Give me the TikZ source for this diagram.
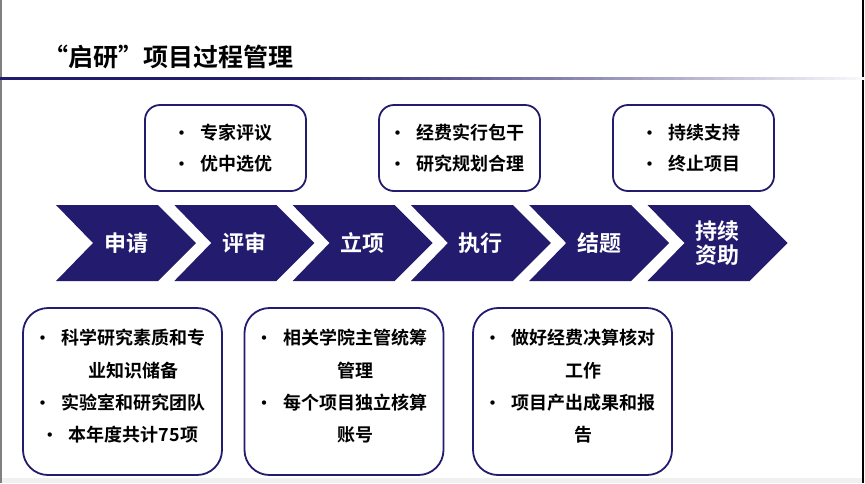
\documentclass[tikz,border=0pt]{standalone}
\usepackage{fontspec}
\setmainfont{Noto Sans CJK SC}[BoldFont=* Bold]
\definecolor{deepblue}{RGB}{35,28,110}
% bullet and indent for wrapped lines
\newcommand{\itm}{\makebox[6pt]{\fontsize{17}{17}\selectfont •}\hspace{16pt}}
\newcommand{\cnt}{\hspace{22pt}}

\begin{document}
\begin{tikzpicture}[
x=1pt,
y=-1pt,
chev/.style={
  fill=deepblue,
  draw=none
  },
lbl/.style={
  text=white,
  font=\fontsize{22}{24}\selectfont\bfseries,
  align=center,
  inner sep=0pt
  },
topbox/.style={
  draw=deepblue,
  line width=1.8pt,
  rounded corners=15pt,
  minimum width=161pt,
  minimum height=86pt,
  align=center,
  inner sep=0pt,
  font=\fontsize{18}{31}\selectfont\bfseries
  },
lowbox/.style={
  draw=deepblue,
  line width=1.8pt,
  rounded corners=25pt,
  minimum width=199pt,
  minimum height=167pt
  },
lowtxt/.style={
  align=center,
  inner sep=0pt,
  font=\fontsize{18}{32.3}\selectfont\bfseries
  }
]
\fill[white] (0,0) rectangle (865,483);
\useasboundingbox (0,0) rectangle (865,483);
% frame of the slide
\fill[gray!12] (0,478) rectangle (862,483);
\draw[gray, line width=1.5pt] (0.75,0) -- (0.75,483);
\draw[black, line width=2pt] (863,0) -- (863,483);

% title and rule
\node[anchor=east, inner sep=0pt, font=\fontsize{25}{25}\selectfont\bfseries] (title) at (294,57) {“启研”项目过程管理};
\fill[deepblue] (0,77) rectangle (300,79.5);
\foreach \k in {0,...,55}
{
  \pgfmathtruncatemacro\p{100-\k*1.75}
  \fill[deepblue!\p!white] (300+\k*10.1,77) rectangle (310.5+\k*10.1,79.5);
}

% process chevrons
\foreach \t [count=\i] in {申请,评审,立项,执行,结题,{持续\\资助}}
{
  \pgfmathsetmacro\L{56+118.3*(\i-1)}
  \fill[chev] (\L,205) -- (\L+102,205) -- (\L+140,243) -- (\L+102,281)
    -- (\L,281) -- (\L+37,243) -- cycle;
  \node[lbl] (ph\i) at (\L+70,243) {\t};
}

% notes above
\node[topbox] (note2) at (225.5,148) {\itm 专家评议\\\itm 优中选优};
\node[topbox] (note4) at (459.5,148) {\itm 经费实行包干\\\itm 研究规划合理};
\node[topbox] (note6) at (693.5,148) {\itm 持续支持\\\itm 终止项目};

% notes below
\node[lowbox] (note1) at (122.5,391.5) {};
\node[lowtxt] (txt1) at (122.5,386.5)
  {\itm 科学研究素质和专\\\cnt 业知识储备\\\itm 实验室和研究团队\\\itm 本年度共计75项};
\node[lowbox] (note3) at (344,391.5) {};
\node[lowtxt] (txt3) at (344,386.5)
  {\itm 相关学院主管统筹\\\cnt 管理\\\itm 每个项目独立核算\\\cnt 账号};
\node[lowbox] (note5) at (572.5,391.5) {};
\node[lowtxt] (txt5) at (572.5,386.5)
  {\itm 做好经费决算核对\\\cnt 工作\\\itm 项目产出成果和报\\\cnt 告};

\end{tikzpicture}
\end{document}
